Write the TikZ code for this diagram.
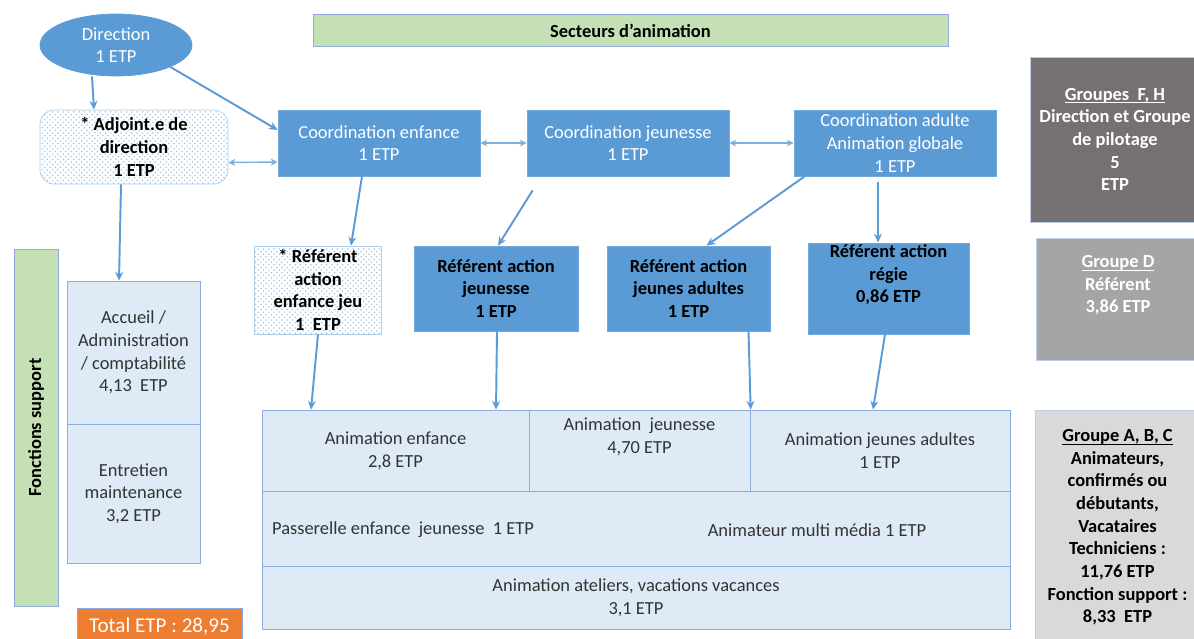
\documentclass[tikz,border=0pt]{standalone}
\usepackage{fontspec}
\setmainfont{Carlito}
\usetikzlibrary{shapes.geometric,arrows.meta,calc,patterns}

\definecolor{blueF}{HTML}{5B9BD5}
\definecolor{cellfill}{HTML}{DEEBF7}
\definecolor{cellline}{HTML}{8FAADC}
\definecolor{greenF}{HTML}{C5E0B4}
\definecolor{orangeF}{HTML}{ED7D31}
\definecolor{greyA}{HTML}{767171}
\definecolor{greyB}{HTML}{A5A5A5}
\definecolor{greyC}{HTML}{D9D9D9}
\newcommand{\boxfont}{\fontsize{10.5}{12.9}\selectfont}
\newcommand{\grpline}[1]{\setbox0=\hbox{#1}\rlap{\rule[-1.6pt]{\wd0}{0.5pt}}\box0}

\begin{document}
\begin{tikzpicture}[x=0.02cm,y=-0.02cm,
  every node/.style={align=center,inner sep=1pt,font=\boxfont},
  coord/.style={fill=blueF,draw=blueF!85,text=white,minimum width=4.04cm,minimum height=1.32cm},
  refbox/.style={fill=blueF,draw=blueF!85,font=\boxfont\bfseries,minimum height=1.7cm},
  hatch/.style={draw=blueF!50,preaction={fill=white},pattern=crosshatch dots,
    pattern color=blueF!55,font=\boxfont\bfseries},
  cell/.style={draw=cellline,fill=cellfill,text=black!80},
  grp/.style={draw=cellline!60,font=\boxfont\bfseries},
  conn/.style={draw=blueF,line width=1.1pt,-{Stealth[length=5pt,width=4.5pt]}},
  dbl/.style={draw=blueF!80,line width=0.8pt,
    {Stealth[length=4pt,width=4pt]}-{Stealth[length=4pt,width=4pt]}}]
\useasboundingbox (0,0) rectangle (1194,639);

% top row
\node[ellipse,fill=blueF,draw=blueF,text=white,minimum width=3.04cm,minimum height=1.24cm,inner sep=0pt] (dir) at (116,45) {Direction\\1 ETP};
\node[draw=cellline,fill=greenF,font=\boxfont\bfseries,minimum width=12.7cm,minimum height=0.64cm] (sect) at (630.5,30.5) {Secteurs d’animation};
\node[hatch,rounded corners=8pt,minimum width=3.76cm,minimum height=1.48cm] (adj) at (134,147) {* Adjoint.e de\\direction\\1 ETP};
\node[coord] (ce) at (379,143) {Coordination enfance\\1 ETP};
\node[coord] (cj) at (628,143) {Coordination jeunesse\\1 ETP};
\node[coord] (ca) at (895,143) {Coordination adulte\\Animation globale\\1 ETP};

% support functions
\node[draw=cellline,fill=greenF,rotate=90,minimum width=7.14cm,minimum height=0.88cm,font=\boxfont\bfseries] (fs) at (36,427.5) {Fonctions support};
\node[cell,minimum width=2.66cm,minimum height=2.86cm] (acc) at (133.5,352.5) {Accueil /\\Administration\\/ comptabilité\\4,13~ ETP};
\node[cell,minimum width=2.66cm,minimum height=2.78cm] (ent) at (133.5,493.5) {Entretien\\maintenance\\3,2 ETP};
\node[fill=orangeF,draw=cellline,text=white,minimum width=3.3cm,minimum height=0.76cm,font=\fontsize{12}{14}\selectfont] (tot) at (159.5,627) {Total ETP : 28,95};

% referents
\node[hatch,minimum width=2.54cm,minimum height=1.76cm] (rej) at (318,290) {* Référent\\action\\enfance jeu\\1~ ETP};
\node[refbox,minimum width=3.28cm] (rj) at (496,288.5) {Référent action\\jeunesse\\1 ETP};
\node[refbox,minimum width=3.26cm] (rja) at (688.5,288.5) {Référent action\\jeunes adultes\\1 ETP};
\node[refbox,minimum width=3.22cm] (rr) at (888.5,288.5) {Référent action\\régie\\0,86 ETP\\\strut};

% animation block
\node[cell,minimum width=5.34cm,minimum height=1.62cm] (ae) at (395.5,450.5) {Animation enfance\\2,8 ETP};
\node[cell,minimum width=4.42cm,minimum height=1.62cm] (aj) at (639.5,450.5) {Animation~ jeunesse\\4,70 ETP\\\strut};
\node[cell,minimum width=5.2cm,minimum height=1.62cm] (aja) at (880,450.5) {Animation jeunes adultes\\1 ETP};
\node[cell,minimum width=14.96cm,minimum height=1.52cm] (row2) at (636,529) {};
\node[anchor=west,text=black!80] (pas) at (270,530) {Passerelle enfance~ jeunesse~ 1 ETP};
\node[text=black!80] (amm) at (817,530) {Animateur multi média 1 ETP};
\node[cell,minimum width=14.96cm,minimum height=1.26cm] (row3) at (636,598) {Animation ateliers, vacations vacances\\3,1 ETP};

% groups
\node[grp,fill=greyA,text=white,minimum width=3.4cm,minimum height=3.3cm] (gfh) at (1115,139.5) {\grpline{Groupes~ F, H}\\Direction et Groupe\\de pilotage\\5\\ETP};
\node[grp,fill=greyB,text=white,minimum width=3.28cm,minimum height=2.44cm] (gd) at (1118,299) {\grpline{Groupe D}\\Référent\\3,86 ETP\\\strut};
\node[grp,fill=greyC,text=black,minimum width=3.3cm,minimum height=4.7cm] (gabc) at (1117.5,527.5) {\grpline{Groupe A, B, C}\\Animateurs,\\confirmés ou\\débutants,\\Vacataires\\Techniciens :\\11,76 ETP\\Fonction support :\\8,33~ ETP};

% arrows
\draw[conn] ($(dir.south)+(-24,0)$) -- ($(adj.north)+(-40,0)$);
\draw[conn] (dir.-22) -- ($(ce.west)+(0,-13)$);
\draw[dbl] ($(adj.east)+(0,15.5)$) -- ($(ce.west)+(0,19)$);
\draw[dbl] (ce.east) -- (cj.west);
\draw[dbl] (cj.east) -- (ca.west);
\draw[conn] ($(adj.south)+(-13,0)$) -- ($(acc.north)+(-14.5,0)$);
\draw[conn] ($(ce.south)+(-17,0)$) -- ($(rej.north)+(33,0)$);
\draw[conn] ($(cj.south west)+(6,14)$) -- ($(rj.north)+(2,0)$);
\draw[conn] ($(ca.south west)+(11,0)$) -- ($(rja.north)+(18,0)$);
\draw[conn] ($(ca.south)+(-17,6)$) -- ($(rr.north)+(-10.5,0)$);
\draw[conn] (rej.south) -- ($(ae.north)+(-84.5,0)$);
\draw[conn] ($(rj.south)+(1,0)$) -- ($(ae.north)+(100.5,0)$);
\draw[conn] ($(rja.south)+(60,0)$) -- ($(aja.north west)+(1,0)$);
\draw[conn] ($(rr.south)+(-3.5,0)$) -- ($(aja.north)+(-7,0)$);
\end{tikzpicture}
\end{document}
